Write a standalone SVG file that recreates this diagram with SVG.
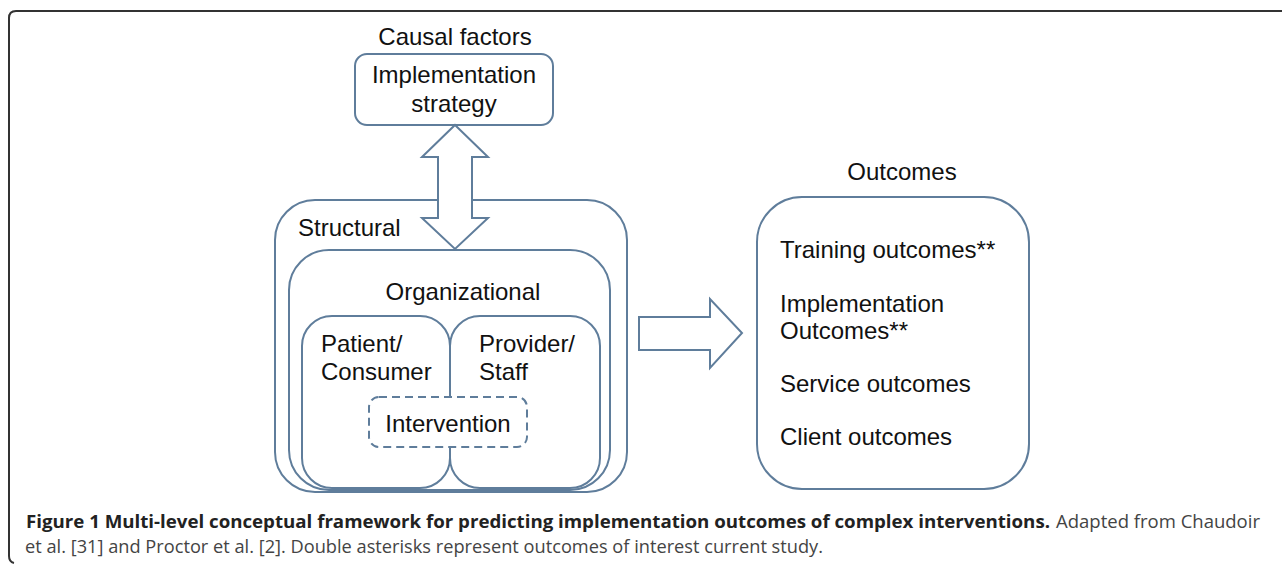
<svg xmlns="http://www.w3.org/2000/svg" width="1282" height="565" viewBox="0 0 1282 565">
<style>
.box{fill:none;stroke:#5f7d9b;stroke-width:2}
.fillbox{fill:#fff;stroke:#5f7d9b;stroke-width:2}
.t{font-family:"Liberation Sans",Arial,sans-serif;font-size:24px;fill:#111}
.cap{font-family:"Open Sans","Noto Sans",sans-serif;font-size:18px}
</style>
<rect width="1282" height="565" fill="#fff"/>
<path d="M1282,11 L16,11 Q9,11 9,18 L9,556 Q9,562 14,563" fill="none" stroke="#333" stroke-width="2"/>
<g id="causal">
<text class="t" x="455" y="45" text-anchor="middle">Causal factors</text>
<rect class="box" x="355" y="54" width="198" height="71" rx="12"/>
<text class="t" x="454" y="83" text-anchor="middle">Implementation</text>
<text class="t" x="454" y="112" text-anchor="middle">strategy</text>
</g>
<g id="structural">
<rect class="box" x="275" y="200" width="352" height="292" rx="40"/>
<text class="t" x="298" y="236">Structural</text>
</g>
<g id="organizational">
<rect class="box" x="289" y="250" width="321" height="240" rx="40"/>
<text class="t" x="463" y="300" text-anchor="middle">Organizational</text>
</g>
<g id="patient">
<rect class="box" x="302" y="316" width="148" height="172" rx="30"/>
<text class="t" x="321" y="352">Patient/</text>
<text class="t" x="321" y="380">Consumer</text>
</g>
<g id="provider">
<rect class="box" x="450" y="316" width="150" height="172" rx="30"/>
<text class="t" x="479" y="352">Provider/</text>
<text class="t" x="479" y="380">Staff</text>
</g>
<g id="intervention">
<rect x="369" y="397" width="158" height="50" rx="10" fill="#fff" stroke="#5f7d9b" stroke-width="2" stroke-dasharray="8,5"/>
<text class="t" x="448" y="432" text-anchor="middle">Intervention</text>
</g>
<g id="outcomes">
<text class="t" x="902" y="180" text-anchor="middle">Outcomes</text>
<rect class="box" x="757" y="197" width="272" height="292" rx="45"/>
<text class="t" x="780" y="258">Training outcomes**</text>
<text class="t" x="780" y="312">Implementation</text>
<text class="t" x="780" y="339">Outcomes**</text>
<text class="t" x="780" y="392">Service outcomes</text>
<text class="t" x="780" y="445">Client outcomes</text>
</g>
<g id="connectors">
<path class="fillbox" d="M455,125 L488,157 L472,157 L472,218 L488,218 L455,249 L422,218 L438,218 L438,157 L422,157 Z"/>
<path class="fillbox" d="M639,317 L710,317 L710,299 L742,333 L710,368 L710,350 L639,350 Z"/>
</g>
<g id="caption">
<text class="cap" x="26" y="528" font-weight="bold" fill="#222" textLength="1024" lengthAdjust="spacingAndGlyphs">Figure 1 Multi-level conceptual framework for predicting implementation outcomes of complex interventions.</text>
<text class="cap" x="1056" y="528" fill="#444" textLength="204" lengthAdjust="spacingAndGlyphs">Adapted from Chaudoir</text>
<text class="cap" x="25" y="553" fill="#444" textLength="798" lengthAdjust="spacingAndGlyphs">et al. [31] and Proctor et al. [2]. Double asterisks represent outcomes of interest current study.</text>
</g>
</svg>
